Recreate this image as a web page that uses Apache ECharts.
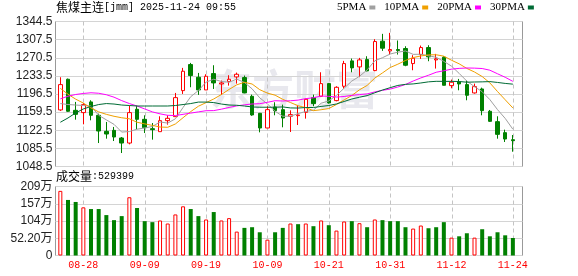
<!DOCTYPE html>
<html><head><meta charset="utf-8">
<script src="https://cdn.jsdelivr.net/npm/echarts@6/dist/echarts.min.js"></script>
<style>html,body{margin:0;padding:0;background:#fff}#c{width:578px;height:276px}</style>
</head><body><div id="c"></div>
<script>
const dates = ['08-25','08-26','08-27','08-28','08-29','09-01','09-02','09-03','09-04','09-05','09-08','09-09','09-10','09-11','09-12','09-15','09-16','09-17','09-18','09-19','09-22','09-23','09-24','09-25','09-26','09-29','09-30','10-09','10-10','10-13','10-14','10-15','10-16','10-17','10-20','10-21','10-22','10-23','10-24','10-27','10-28','10-29','10-30','10-31','11-03','11-04','11-05','11-06','11-07','11-10','11-11','11-12','11-13','11-14','11-17','11-18','11-19','11-20','11-21','11-24'];
const opens  = [1164.0,1226.6,1163.2,1158.5,1180.3,1153.0,1120.3,1122.3,1106.7,1096.4,1165.3,1144.8,1125.7,1119.6,1142.1,1150.3,1203.4,1256.6,1230.7,1204.8,1238.2,1217.0,1221.8,1231.4,1230.0,1191.8,1157.1,1127.1,1170.0,1164.6,1151.0,1152.3,1159.1,1189.1,1191.8,1217.7,1183.0,1212.3,1264.1,1251.8,1266.8,1244.3,1304.3,1284.5,1287.3,1289.3,1258.6,1277.0,1291.3,1266.1,1271.6,1213.6,1221.2,1215.7,1198.7,1206.8,1161.2,1140.1,1117.6,1103.2];
const closes = [1215.7,1161.2,1155.0,1174.8,1153.0,1121.0,1114.8,1108.7,1096.4,1158.5,1144.8,1127.8,1123.7,1142.1,1146.9,1189.1,1243.0,1234.1,1204.8,1232.7,1219.1,1219.1,1226.6,1236.8,1198.7,1153.7,1127.1,1164.6,1162.5,1147.5,1154.4,1153.7,1185.7,1176.8,1217.7,1178.2,1210.2,1258.6,1249.8,1266.1,1243.6,1303.6,1290.0,1287.3,1285.2,1255.2,1269.5,1291.3,1272.3,1268.2,1214.3,1220.5,1217.0,1193.9,1211.6,1162.5,1140.7,1114.1,1104.6,1101.2];
const lows   = [1162.0,1160.0,1144.1,1134.6,1142.8,1096.4,1105.3,1100.5,1076.0,1093.7,1125.0,1116.8,1103.3,1119.6,1133.9,1150.0,1196.6,1210.3,1194.6,1204.8,1206.8,1194.6,1213.6,1217.7,1198.0,1152.0,1118.2,1127.0,1153.0,1128.5,1118.9,1133.2,1146.2,1171.4,1191.0,1177.0,1181.6,1207.5,1240.9,1230.7,1243.0,1243.0,1284.5,1277.0,1277.0,1253.2,1245.0,1268.2,1263.4,1248.4,1214.0,1208.2,1204.1,1183.7,1197.3,1153.0,1139.4,1105.3,1098.5,1078.7];
const highs  = [1230.7,1228.0,1180.3,1178.0,1183.7,1156.4,1139.4,1129.2,1108.7,1172.8,1172.8,1153.0,1137.3,1151.0,1153.0,1198.7,1249.8,1260.0,1239.5,1236.8,1255.2,1223.9,1234.8,1240.2,1234.1,1195.2,1157.8,1171.4,1179.6,1174.8,1163.2,1172.8,1187.1,1195.2,1240.9,1219.0,1212.3,1264.1,1268.9,1270.2,1273.6,1308.4,1319.3,1321.3,1305.7,1294.0,1275.7,1295.4,1296.1,1278.4,1273.6,1225.9,1227.3,1223.9,1217.7,1209.5,1163.9,1151.0,1123.7,1112.8];
const volumes = [1956000,1681000,1620000,1457000,1406000,1406000,1223000,1070000,1192000,1763000,1437000,1039000,1009000,1060000,968000,1243000,1488000,1406000,1192000,1090000,1315000,1060000,1131000,723000,836000,856000,703000,479000,703000,836000,968000,948000,968000,887000,1060000,917000,754000,1029000,1039000,978000,856000,1090000,1070000,1039000,1039000,856000,815000,907000,825000,856000,1009000,540000,581000,673000,540000,795000,581000,703000,611000,529399];
const volDir = [1,-1,-1,1,-1,-1,-1,-1,-1,1,-1,-1,-1,1,1,1,1,-1,-1,1,-1,1,1,1,-1,-1,-1,1,-1,-1,1,-1,1,-1,1,-1,1,1,-1,1,-1,1,-1,-1,-1,-1,1,1,-1,-1,-1,1,-1,-1,1,-1,-1,-1,-1,-1];
const ma5  = [1177,1175,1174,1173,1171.9,1153,1143.7,1134.5,1118.8,1119.9,1124.6,1127.2,1130.2,1139.4,1137.1,1145.9,1169,1191,1203.6,1220.7,1226.7,1222,1220.5,1226.9,1220.1,1207,1188.6,1176.2,1161.3,1151.1,1151.2,1156.5,1160.8,1163.6,1177.7,1182.4,1193.7,1208.3,1222.9,1232.6,1245.7,1264.3,1270.6,1278.1,1281.9,1284.3,1277.4,1277.7,1274.7,1271.3,1263.1,1253.3,1238.5,1222.8,1211.5,1201.1,1185.1,1164.6,1146.7,1124.6];
const ma10 = [1208,1196,1186,1178,1168,1160,1155,1151,1148,1145.9,1138.8,1135.5,1132.4,1129.1,1128.5,1135.3,1148.1,1160.6,1171.5,1178.9,1186.3,1195.5,1205.8,1215.2,1220.4,1216.9,1205.3,1198.3,1194.1,1185.6,1179.1,1172.6,1168.5,1162.5,1164.4,1166.8,1175.1,1184.5,1193.3,1205.1,1214,1229,1239.5,1250.5,1257.3,1265,1270.9,1274.2,1276.4,1276.6,1273.7,1265.4,1258.1,1248.7,1241.4,1232.1,1219.2,1201.5,1184.7,1168];
const ma20 = [1186.6,1192,1195.5,1197.6,1199,1198,1195,1190,1183,1177,1172,1166,1160,1156,1153,1152.5,1155,1157.5,1160,1162.4,1162.6,1165.5,1169.1,1172.2,1174.4,1176.1,1176.7,1179.5,1182.8,1182.2,1182.7,1184,1187.1,1188.8,1192.4,1191.8,1190.2,1191.4,1193.7,1195.3,1196.6,1200.8,1204,1206.5,1210.8,1215.9,1223,1229.3,1234.8,1240.9,1243.9,1247.2,1248.8,1249.6,1249.3,1248.5,1245.1,1237.8,1230.6,1222.3];
const ma30 = [1138.8,1147.6,1157.9,1166,1171,1175,1177,1176,1174,1173,1172,1172,1172,1172,1172,1173,1175,1177,1180,1180,1179,1176,1174,1173.5,1172,1170,1169.5,1169.5,1169.5,1170.1,1168.1,1167.8,1168.9,1168.9,1171.1,1173,1176.2,1181.2,1186.3,1189.9,1193.2,1199,1204.6,1209.4,1214,1216.2,1217.1,1219,1221.3,1222.4,1222.3,1222.3,1222,1220.6,1221,1221.3,1221.8,1220.1,1218.1,1216.6];
const xTickLabels = ['08-28','09-09','09-19','10-09','10-21','10-31','11-12','11-24'];
const priceTicks = [1048.5,1085.5,1122.5,1159.5,1196.5,1233.5,1270.5,1307.5,1344.5];
const volTickValues = [0,522000,1044000,1566000,2088000];
const volTickLabels = ['0','52.20万','104万','157万','209万'];
const maNames = ['5PMA','10PMA','20PMA','30PMA'];
const titleName = '焦煤主连';
const titleRest = '[jmm] 2025-11-24 09:55';
const volName = '成交量';
const volRest = ':529399';

const RED = '#ff0000', GREEN = '#008000';
const maColors = ['#a0a0a0','#f0a000','#ff00ff','#006b35'];
const maData = [ma5, ma10, ma20, ma30];
const showTick = (idx, val) => xTickLabels.indexOf(val) >= 0;
const CJK = '"Noto Sans CJK SC"';

const chart = echarts.init(document.getElementById('c'), null, {renderer:'canvas', width:578, height:276});
const frameMain = {left:55.5, top:21.5, width:467, height:145};
const frameVol  = {left:55.5, top:186.5, width:467, height:69};
const dataX = {left:56.5, width:460.2};

const labelNum = (ticks, labels) => (v) => {
  let best = 0;
  for (let i = 0; i < ticks.length; i++) if (Math.abs(ticks[i]-v) < Math.abs(ticks[best]-v)) best = i;
  return labels[best];
};
// dashed vertical guide lines at the labelled dates, built from short solid segments
const DASH = 4, GAP = 3;
const vLines = (xIdx, yIdx, bottomValue, topValue) => ({
  type: 'custom', xAxisIndex: xIdx, yAxisIndex: yIdx, z: 1, silent: true, clip: false,
  data: xTickLabels.map(l => [dates.indexOf(l), bottomValue, topValue]),
  encode: {x: 0, y: [1, 2]},
  renderItem: (params, api) => {
    const p0 = api.coord([api.value(0), api.value(1)]);
    const p1 = api.coord([api.value(0), api.value(2)]);
    const x = Math.round(p0[0]) + 0.5;
    const yTop = Math.min(p0[1], p1[1]), yBot = Math.max(p0[1], p1[1]);
    const children = [];
    for (let y = yTop; y < yBot; y += DASH + GAP) {
      children.push({type: 'rect', silent: true,
        shape: {x: x - 0.5, y: y, width: 1, height: Math.min(DASH, yBot - y)},
        style: {fill: '#c4c4c4'}});
    }
    return {type: 'group', children: children};
  }
});
const rich = {a: {fontFamily: CJK, fontSize: 12, color: '#000', fontWeight: 'normal'},
              b: {fontFamily: 'Liberation Mono', fontSize: 10, color: '#000', fontWeight: 'normal'}};

const option = {
  animation: false,
  backgroundColor: '#fff',
  title: [
    {text: '{a|' + titleName + '}{b|' + titleRest + '}', left: 56, top: 1, padding: 0,
     textStyle: {fontWeight: 'normal', rich: rich}},
    {text: '{a|' + volName + '}{b|' + volRest + '}', left: 56, top: 170, padding: 0,
     textStyle: {fontWeight: 'normal', rich: rich}}
  ],
  legend: {
    data: maNames, left: 337, top: 2, padding: 0, align: 'right', icon: 'rect',
    itemWidth: 6, itemHeight: 4, itemGap: 9,
    textStyle: {fontFamily: 'Liberation Serif', fontSize: 11, color: '#000', padding: [0,-2,0,0]}
  },
  graphic: [{
    type: 'text', left: 210, top: 68, z: 0, silent: true,
    style: {text: '东方财富', fill: '#e8e8ee', font: 'bold 42px "Noto Sans CJK SC"'}
  }],
  grid: [
    Object.assign({show: true, borderColor: '#999', borderWidth: 1, backgroundColor: 'transparent'}, frameMain),
    {left: dataX.left, width: dataX.width, top: frameMain.top, height: frameMain.height},
    Object.assign({show: true, borderColor: '#999', borderWidth: 1, backgroundColor: 'transparent'}, frameVol),
    {left: dataX.left, width: dataX.width, top: frameVol.top, height: frameVol.height}
  ],
  xAxis: [
    {gridIndex: 0, type: 'value', min: 0, max: 1, show: false},
    {gridIndex: 1, type: 'category', data: dates, axisLine: {show: false}, axisTick: {show: false}, axisLabel: {show: false}, splitLine: {show: false}},
    {gridIndex: 2, type: 'value', min: 0, max: 1, show: false},
    {gridIndex: 3, type: 'category', data: dates, axisLine: {show: false}, axisTick: {show: false},
     axisLabel: {interval: showTick, color: RED, fontFamily: 'Liberation Mono', fontSize: 10, margin: 5},
     splitLine: {show: false}}
  ],
  yAxis: [
    {gridIndex: 0, type: 'value', min: priceTicks[0], max: priceTicks[priceTicks.length-1], interval: priceTicks[1]-priceTicks[0],
     axisLine: {show: false}, axisTick: {show: false},
     axisLabel: {fontFamily: 'Liberation Sans', fontSize: 12, color: '#222', margin: 3, formatter: labelNum(priceTicks, priceTicks.map(v => v.toFixed(1)))},
     splitLine: {lineStyle: {color: '#d4d4d4', width: 1}}},
    {gridIndex: 1, type: 'value', min: priceTicks[0], max: priceTicks[priceTicks.length-1], show: false},
    {gridIndex: 2, type: 'value', min: volTickValues[0], max: volTickValues[volTickValues.length-1], interval: volTickValues[1]-volTickValues[0],
     axisLine: {show: false}, axisTick: {show: false},
     axisLabel: {fontFamily: 'Liberation Sans, ' + CJK, fontSize: 12, color: '#222', margin: 3, formatter: labelNum(volTickValues, volTickLabels)},
     splitLine: {lineStyle: {color: '#d4d4d4', width: 1}}},
    {gridIndex: 3, type: 'value', min: volTickValues[0], max: volTickValues[volTickValues.length-1], show: false}
  ],
  series: [
    vLines(1, 1, priceTicks[0], priceTicks[priceTicks.length-1]),
    vLines(3, 3, volTickValues[0], volTickValues[volTickValues.length-1]),
    {type: 'candlestick', xAxisIndex: 1, yAxisIndex: 1, barWidth: 4, z: 2,
     data: dates.map((d, i) => [opens[i], closes[i], lows[i], highs[i]]),
     itemStyle: {color: '#ffffff', color0: GREEN, borderColor: RED, borderColor0: GREEN, borderWidth: 1}},
    ...maNames.map((n, k) => ({
      name: n, type: 'line', xAxisIndex: 1, yAxisIndex: 1, data: maData[k], color: maColors[k], z: 3,
      symbol: 'none', showSymbol: false, lineStyle: {width: 1, color: maColors[k]}, itemStyle: {color: maColors[k]}
    })),
    {type: 'bar', xAxisIndex: 3, yAxisIndex: 3, barWidth: 4, z: 2,
     data: volumes.map((v, i) => ({value: v, itemStyle: volDir[i] > 0 ? {color: '#ffffff', borderColor: RED, borderWidth: 1} : {color: GREEN}}))}
  ]
};
chart.setOption(option);
</script></body></html>
